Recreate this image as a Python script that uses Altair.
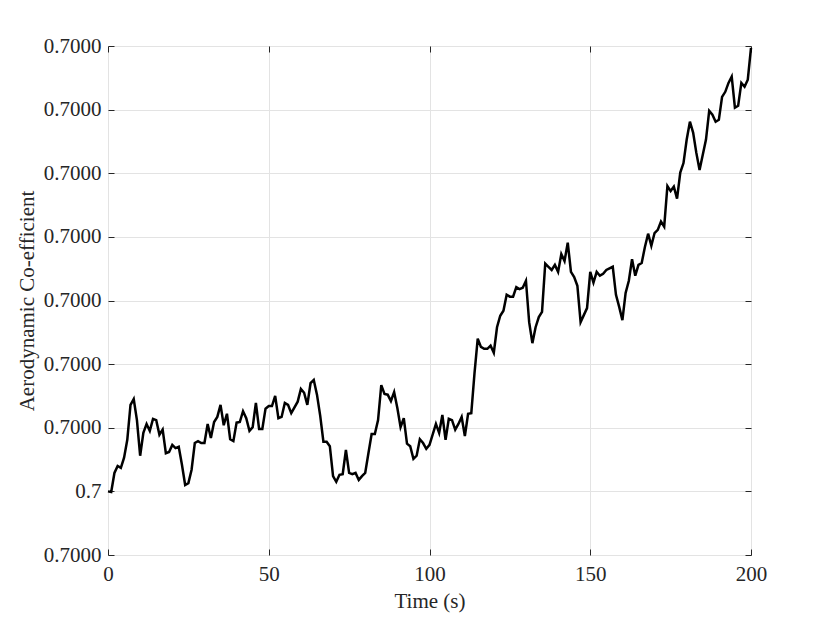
import altair as alt
import pandas as pd

time_s = [0,1,2,3,4,5,6,7,8,9,10,11,12,13,14,15,16,17,18,19,20,21,22,23,24,25,26,27,28,29,
          30,31,32,33,34,35,36,37,38,39,40,41,42,43,44,45,46,47,48,49,50,51,52,53,54,55,56,57,59,
          60,61,62,63,64,65,66,67,68,69,70,71,72,73,74,75,76,77,78,79,80,81,82,83,84,85,86,87,88,89,
          90,91,92,93,94,95,96,97,98,99,100,102,103,104,105,106,107,108,109,110,111,112,113,114,115,
          116,117,118,119,120,121,122,123,124,125,126,127,128,129,130,131,132,133,134,135,136,137,138,
          139,140,141,142,143,144,145,146,147,148,149,150,151,152,153,154,155,157,158,159,160,161,162,
          163,164,165,166,167,168,169,170,171,172,173,174,175,176,177,178,179,180,181,182,183,184,185,
          186,187,188,189,190,191,192,193,194,195,196,197,198,199,200]
coef = [1.00,0.99,1.29,1.40,1.37,1.53,1.81,2.36,2.45,2.12,1.56,1.92,2.06,1.95,2.14,2.12,1.89,1.97,1.60,1.62,
        1.73,1.68,1.70,1.42,1.10,1.13,1.34,1.76,1.79,1.76,
        1.76,2.06,1.84,2.09,2.17,2.36,2.04,2.22,1.82,1.79,2.08,2.09,2.26,2.15,1.95,2.01,2.39,1.98,1.98,2.30,
        2.34,2.34,2.50,2.15,2.17,2.39,2.36,2.23,2.41,
        2.61,2.55,2.36,2.70,2.75,2.52,2.19,1.78,1.78,1.71,1.24,1.15,1.26,1.27,1.65,1.29,1.27,1.29,1.18,1.24,
        1.29,1.60,1.90,1.90,2.12,2.67,2.53,2.52,2.42,2.56,
        2.31,2.01,2.15,1.75,1.71,1.51,1.56,1.82,1.76,1.67,1.73,2.06,1.92,2.20,1.81,2.14,2.12,1.97,2.06,2.17,
        1.87,2.22,2.23,2.86,3.40,
        3.27,3.24,3.24,3.29,3.18,3.58,3.76,3.84,4.09,4.06,4.06,4.21,4.18,4.20,4.31,3.66,3.33,3.58,3.74,3.82,
        4.58,4.53,4.48,
        4.56,4.45,4.73,4.62,4.91,4.45,4.37,4.23,3.66,3.77,3.88,4.45,4.28,4.45,4.39,4.42,4.48,4.53,4.09,3.90,
        3.69,4.12,4.31,
        4.65,4.39,4.56,4.59,4.84,5.05,4.86,5.06,5.11,5.24,5.16,5.80,5.72,5.79,5.60,6.01,6.16,6.53,6.81,6.64,
        6.32,6.05,6.29,
        6.53,6.98,6.92,6.81,6.84,7.20,7.28,7.42,7.52,7.03,7.06,7.42,7.36,7.47,7.97]

x_ticks = [0, 50, 100, 150, 200]
y_ticks = [0, 1, 2, 3, 4, 5, 6, 7, 8]
y_tick_labels = ["0.7000", "0.7", "0.7000", "0.7000", "0.7000", "0.7000", "0.7000", "0.7000", "0.7000"]

df = pd.DataFrame({"t": time_s, "c": coef})

FONT = "Liberation Serif"
DARK = "#262626"
FS = 21
label_expr = "[" + ",".join("'%s'" % s for s in y_tick_labels) + "][datum.value]"

xs = alt.Scale(domain=[0, 200], nice=False, zero=False)
ys = alt.Scale(domain=[0, 8], nice=False, zero=False)

main = alt.Chart(df).mark_line(color="black", strokeWidth=2.5).encode(
    x=alt.X("t:Q", scale=xs, axis=alt.Axis(
        values=x_ticks, title="Time (s)", labelFont=FONT, labelFontSize=FS, labelColor=DARK,
        titleFont=FONT, titleFontSize=FS, titleFontWeight="normal", titleColor=DARK,
        ticks=False, domain=False, grid=True, gridColor="#e3e3e3", gridWidth=1,
        labelPadding=8, titlePadding=6, labelFlush=False)),
    y=alt.Y("c:Q", scale=ys, axis=alt.Axis(
        values=y_ticks, labelExpr=label_expr, title="Aerodynamic Co-efficient",
        labelFont=FONT, labelFontSize=FS, labelColor=DARK,
        titleFont=FONT, titleFontSize=FS, titleFontWeight="normal", titleColor=DARK,
        ticks=False, domain=False, grid=True, gridColor="#e3e3e3", gridWidth=1,
        labelPadding=7, titlePadding=6, labelFlush=False)),
)

def tick_axis(orient, vals):
    return alt.Axis(orient=orient, offset=-6, tickSize=6, values=vals, labels=False,
                    domain=False, grid=False, title=None, tickColor=DARK, tickWidth=1)

ticks_a = alt.Chart(df).mark_line(opacity=0).encode(
    x=alt.X("t:Q", scale=xs, axis=tick_axis("bottom", x_ticks)),
    y=alt.Y("c:Q", scale=ys, axis=tick_axis("left", y_ticks)),
)
ticks_b = alt.Chart(df).mark_line(opacity=0).encode(
    x=alt.X("t:Q", scale=xs, axis=tick_axis("top", x_ticks)),
    y=alt.Y("c:Q", scale=ys, axis=tick_axis("right", y_ticks)),
)

chart = alt.layer(ticks_a, ticks_b, main).resolve_axis(
    x="independent", y="independent"
).properties(
    width=643, height=509,
    padding={"left": 100, "top": 38, "right": 71, "bottom": 60},
    autosize=alt.AutoSizeParams(type="none"),
).configure_view(stroke=DARK, strokeWidth=1).configure(background="white")

chart.save("out.html", embed_options={"renderer": "svg", "actions": False})
